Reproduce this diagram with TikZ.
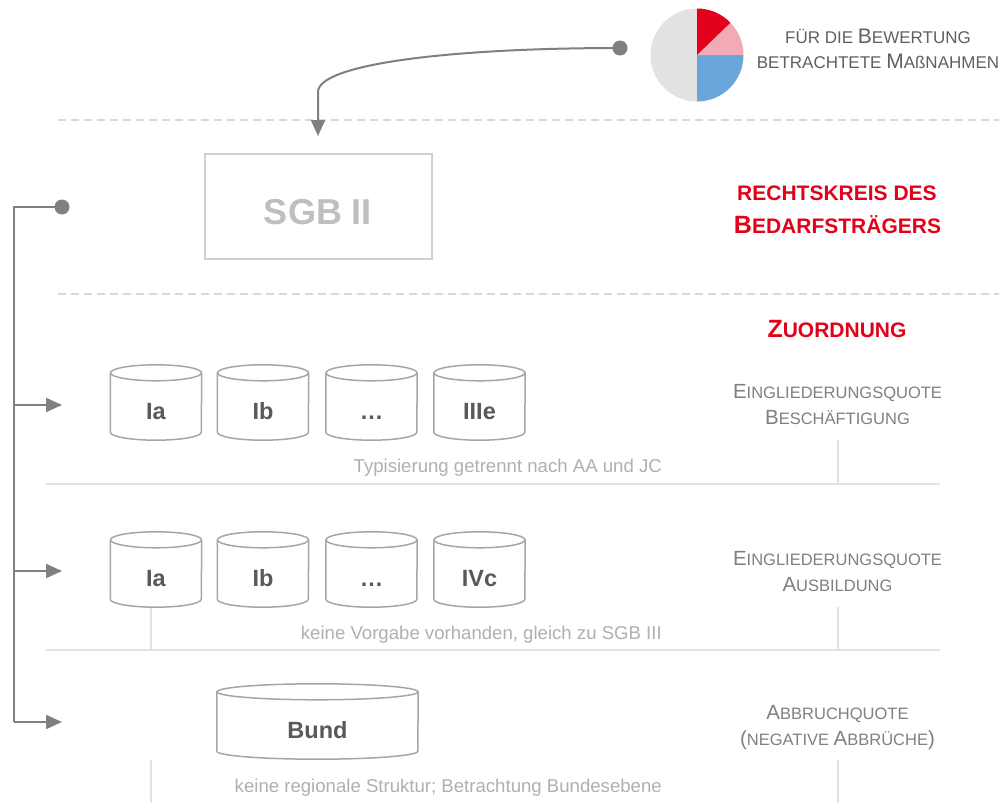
\documentclass[tikz,border=0pt]{standalone}
\usepackage{fontspec}
\setmainfont{Liberation Sans}
\usetikzlibrary{arrows.meta,calc}
\definecolor{conngray}{HTML}{808080}
\definecolor{dashgray}{HTML}{D9D9D9}
\definecolor{sepgray}{HTML}{E3E3E3}
\definecolor{boxgray}{HTML}{D0D0D0}
\definecolor{sgbtext}{HTML}{BFBFBF}
\definecolor{cylgray}{HTML}{A6A6A6}
\definecolor{cyltext}{HTML}{595959}
\definecolor{captgray}{HTML}{B0B0B0}
\definecolor{labgray}{HTML}{808080}
\definecolor{topgray}{HTML}{606060}
\definecolor{brandred}{HTML}{E2001A}
\definecolor{piepink}{HTML}{F4AAB5}
\definecolor{pieblue}{HTML}{6AA6DC}
\definecolor{piegray}{HTML}{E2E2E2}
\newcommand\GrBig[1]{{\fontsize{20.5pt}{24pt}\selectfont #1}}
\newcommand\GrSm[1]{{\fontsize{16.5pt}{20pt}\selectfont #1}}
\newcommand\TpBig[1]{{\fontsize{21pt}{24pt}\selectfont #1}}
\newcommand\TpSm[1]{{\fontsize{17pt}{20pt}\selectfont #1}}
\newcommand\RdBig[1]{{\fontsize{25pt}{28pt}\selectfont #1}}
\newcommand\RdSm[1]{{\fontsize{21pt}{24pt}\selectfont #1}}
\newcommand\cylout[2]{%
  \draw[cylline] ($(#1.north)+(0,8)$) ellipse [x radius=#2, y radius=8];
  \draw[cylline] ($(#1.north west)+(0,8)$) -- ($(#1.south west)+(0,-8)$)
     arc[start angle=180, end angle=0, x radius=#2, y radius=8]
     -- ($(#1.north east)+(0,8)$);}
\tikzset{
  conn/.style={draw=conngray, line width=2pt},
  arr/.style={-{Triangle[length=16pt,width=14pt]}},
  dotst/.style={circle, fill=conngray, minimum size=15pt, inner sep=0pt},
  dashsep/.style={draw=dashgray, line width=1.6pt, dash pattern=on 8pt off 5pt},
  solsep/.style={draw=sepgray, line width=2pt},
  vsep/.style={draw=sepgray, line width=1.5pt},
  cylline/.style={draw=cylgray, line width=1.5pt},
  cylnode/.style={inner sep=0pt, minimum height=75pt, text=cyltext,
    font=\bfseries\fontsize{23.5pt}{26pt}\selectfont, text height=33.8pt, text depth=0pt},
  smallcyl/.style={cylnode, minimum width=91pt},
  sgbbox/.style={draw=boxgray, line width=2pt, minimum width=227pt, minimum height=105pt,
    text=sgbtext, font=\bfseries\fontsize{36pt}{40pt}\selectfont, text height=35.8pt, text depth=0pt, inner sep=0pt},
  caption/.style={anchor=base east, inner sep=0pt, text=captgray, font=\fontsize{18.6pt}{22pt}\selectfont},
  rlab/.style={anchor=base, inner sep=0pt, text=labgray},
  redlab/.style={anchor=base, inner sep=0pt, text=brandred, font=\bfseries},
  toplab/.style={anchor=base, inner sep=0pt, text=topgray},
}
\begin{document}
\begin{tikzpicture}[x=1pt,y=-1pt]
\fill[white] (0,0) rectangle (999,803);
\path[use as bounding box] (0,0) rectangle (999,803);

% pie chart
\coordinate (pc) at (697,55);
\fill[piegray] (pc) -- ++(90:46.5) arc[start angle=90, end angle=270, radius=46.5] -- cycle;
\fill[pieblue] (pc) -- ++(0:46.5) arc[start angle=0, end angle=90, radius=46.5] -- cycle;
\fill[piepink] (pc) -- ++(-44:46.5) arc[start angle=-44, end angle=0, radius=46.5] -- cycle;
\fill[brandred] (pc) -- ++(-90:46.5) arc[start angle=-90, end angle=-44, radius=46.5] -- cycle;

% top-right label
\node[toplab] (tl1) at (878,43) {\TpSm{FÜR DIE }\TpBig{B}\TpSm{EWERTUNG}};
\node[toplab] (tl2) at (878,68) {\TpSm{BETRACHTETE }\TpBig{M}\TpSm{AßNAHMEN}};

% dashed separators
\coordinate (ds1a) at (58,120); \coordinate (ds1b) at (999,120);
\coordinate (ds2a) at (58,294); \coordinate (ds2b) at (999,294);
\draw[dashsep] (ds1a) -- (ds1b);
\draw[dashsep] (ds2a) -- (ds2b);

% solid separators
\coordinate (ss1a) at (46,484); \coordinate (ss1b) at (940,484);
\coordinate (ss2a) at (46,650); \coordinate (ss2b) at (940,650);
\draw[solsep] (ss1a) -- (ss1b);
\draw[solsep] (ss2a) -- (ss2b);
\coordinate (v1a) at (838,440); \coordinate (v1b) at (838,484);
\coordinate (v2a) at (838,607); \coordinate (v2b) at (838,650);
\coordinate (v3a) at (838,760); \coordinate (v3b) at (838,803);
\coordinate (v4a) at (151,607); \coordinate (v4b) at (151,650);
\coordinate (v5a) at (151,760); \coordinate (v5b) at (151,803);
\draw[vsep] (v1a) -- (v1b);
\draw[vsep] (v2a) -- (v2b);
\draw[vsep] (v3a) -- (v3b);
\draw[vsep] (v4a) -- (v4b);
\draw[vsep] (v5a) -- (v5b);

% SGB II box
\node[sgbbox] (sgb) at (318,206.5) {SGB II};

% top connector
\node[dotst] (tdot) at (620,48) {};
\coordinate (bend) at (318,92);
\draw[conn,arr,shorten >=17pt] (tdot.center) .. controls (450,48) and (318,64) .. (bend) -- (sgb.north);

% red labels
\node[redlab] (rk1) at (837,200) {\RdSm{RECHTSKREIS DES}};
\node[redlab] (rk2) at (837.5,233) {\RdBig{B}\RdSm{EDARFSTRÄGERS}};
\node[redlab] (zu) at (837,337) {\RdBig{Z}\RdSm{UORDNUNG}};

% row 1 cylinders
\node[smallcyl] (r1a) at (156,402.5) {Ia};
\node[smallcyl] (r1b) at (263,402.5) {Ib};
\node[smallcyl] (r1c) at (371.5,402.5) {…};
\node[smallcyl] (r1d) at (479.5,402.5) {IIIe};
\cylout{r1a}{45.5}\cylout{r1b}{45.5}\cylout{r1c}{45.5}\cylout{r1d}{45.5}

% row 2 cylinders
\node[smallcyl] (r2a) at (156,569.5) {Ia};
\node[smallcyl] (r2b) at (263,569.5) {Ib};
\node[smallcyl] (r2c) at (371.5,569.5) {…};
\node[smallcyl] (r2d) at (479.5,569.5) {IVc};
\cylout{r2a}{45.5}\cylout{r2b}{45.5}\cylout{r2c}{45.5}\cylout{r2d}{45.5}

% row 3 cylinder
\node[cylnode, minimum width=201pt] (r3) at (317.5,721.5) {Bund};
\cylout{r3}{100.5}

% right labels
\node[rlab] (l1a) at (837.5,398) {\GrBig{E}\GrSm{INGLIEDERUNGSQUOTE}};
\node[rlab] (l1b) at (837.5,424) {\GrBig{B}\GrSm{ESCHÄFTIGUNG}};
\node[rlab] (l2a) at (837.5,565) {\GrBig{E}\GrSm{INGLIEDERUNGSQUOTE}};
\node[rlab] (l2b) at (837.5,591) {\GrBig{A}\GrSm{USBILDUNG}};
\node[rlab] (l3a) at (837.5,719) {\GrBig{A}\GrSm{BBRUCHQUOTE}};
\node[rlab] (l3b) at (837.5,745) {\GrBig{(}\GrSm{NEGATIVE }\GrBig{A}\GrSm{BBRÜCHE}\GrBig{)}};

% captions
\node[caption] (c1) at (662,472) {Typisierung getrennt nach AA und JC};
\node[caption] (c2) at (662,639) {keine Vorgabe vorhanden, gleich zu SGB III};
\node[caption] (c3) at (662,792) {keine regionale Struktur; Betrachtung Bundesebene};

% left bracket
\node[dotst] (ldot) at (62,207) {};
\coordinate (lc) at (14,207);
\coordinate (b1) at (14,405); \coordinate (t1) at (62,405);
\coordinate (b2) at (14,571); \coordinate (t2) at (62,571);
\coordinate (b3) at (14,722); \coordinate (t3) at (62,722);
\draw[conn] (ldot.center) -- (lc) -- (b3);
\draw[conn,arr] (b1) -- (t1);
\draw[conn,arr] (b2) -- (t2);
\draw[conn,arr] (b3) -- (t3);
\end{tikzpicture}
\end{document}
